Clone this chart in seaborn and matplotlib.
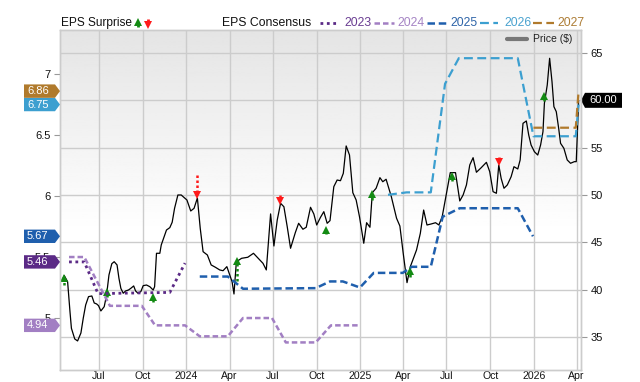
import numpy as np
import pandas as pd
import matplotlib
matplotlib.use('Agg')
import matplotlib.pyplot as plt
import matplotlib.transforms as mtransforms
from matplotlib.patches import Polygon
from matplotlib.lines import Line2D
import seaborn as sns

# --- price history ($), right axis
price_dates = [
    '2023-04-15', '2023-04-19', '2023-04-26', '2023-05-01', '2023-05-04', '2023-05-11', '2023-05-17',
    '2023-05-24', '2023-05-29', '2023-06-03', '2023-06-09', '2023-06-16', '2023-06-21', '2023-06-26',
    '2023-06-30', '2023-07-05', '2023-07-12', '2023-07-17', '2023-07-22', '2023-07-28', '2023-08-02',
    '2023-08-08', '2023-08-12', '2023-08-16', '2023-08-21', '2023-08-26', '2023-09-01', '2023-09-06',
    '2023-09-12', '2023-09-16', '2023-09-21', '2023-09-27', '2023-10-02', '2023-10-09', '2023-10-16',
    '2023-10-23', '2023-10-26', '2023-10-30', '2023-11-06', '2023-11-09', '2023-11-15', '2023-11-20',
    '2023-11-27', '2023-12-02', '2023-12-07', '2023-12-14', '2023-12-21', '2024-01-02', '2024-01-10',
    '2024-01-17', '2024-01-24', '2024-01-30', '2024-02-05', '2024-02-14', '2024-02-22', '2024-03-02',
    '2024-03-11', '2024-03-18', '2024-03-26', '2024-04-01', '2024-04-06', '2024-04-10', '2024-04-15',
    '2024-04-26', '2024-05-09', '2024-05-21', '2024-05-31', '2024-06-10', '2024-06-17', '2024-06-26',
    '2024-07-03', '2024-07-10', '2024-07-17', '2024-07-24', '2024-07-31', '2024-08-07', '2024-08-17',
    '2024-08-24', '2024-09-02', '2024-09-09', '2024-09-18', '2024-09-25', '2024-10-01', '2024-10-09',
    '2024-10-16', '2024-10-23', '2024-10-29', '2024-11-06', '2024-11-13', '2024-11-20', '2024-11-26',
    '2024-12-02', '2024-12-09', '2024-12-16', '2024-12-23', '2024-12-30', '2025-01-08', '2025-01-14',
    '2025-01-21', '2025-01-26', '2025-02-03', '2025-02-11', '2025-02-17', '2025-02-24', '2025-03-07',
    '2025-03-18', '2025-03-25', '2025-04-01', '2025-04-09', '2025-04-16', '2025-04-29', '2025-05-07',
    '2025-05-14', '2025-05-21', '2025-05-30', '2025-06-08', '2025-06-15', '2025-06-22', '2025-07-01',
    '2025-07-09', '2025-07-20', '2025-07-29', '2025-08-05', '2025-08-12', '2025-08-19', '2025-08-26',
    '2025-09-02', '2025-09-12', '2025-09-23', '2025-09-30', '2025-10-07', '2025-10-14', '2025-10-19',
    '2025-10-24', '2025-10-30', '2025-11-06', '2025-11-14', '2025-11-20', '2025-11-28', '2025-12-03',
    '2025-12-09', '2025-12-16', '2025-12-21', '2025-12-26', '2026-01-02', '2026-01-09', '2026-01-15',
    '2026-01-20', '2026-01-23', '2026-01-29', '2026-02-03', '2026-02-08', '2026-02-12', '2026-02-17',
    '2026-02-22', '2026-02-26', '2026-03-05', '2026-03-12', '2026-03-19', '2026-03-27', '2026-03-31',
    '2026-04-05']
price_vals = [
    41.02, 41.48, 40.84, 37.67, 35.92, 34.79, 34.58,
    35.42, 37.01, 38.38, 39.26, 39.33, 38.59, 38.49,
    38.31, 37.75, 38.20, 39.44, 41.55, 42.74, 42.95,
    42.61, 41.20, 40.14, 39.62, 39.86, 39.96, 40.14,
    40.39, 39.86, 39.62, 39.79, 40.42, 40.49, 40.31,
    39.96, 40.31, 43.84, 43.84, 44.72, 45.59, 46.30,
    46.55, 47.12, 48.59, 50.00, 50.00, 49.47, 48.31,
    48.59, 49.68, 46.48, 44.01, 43.66, 42.61, 42.36,
    42.08, 42.00, 42.43, 41.55, 40.84, 39.54, 42.95,
    43.31, 43.42, 43.84, 43.31, 42.78, 42.08, 48.00,
    44.61, 47.36, 49.12, 48.76, 46.65, 44.37, 46.02,
    47.01, 46.38, 46.59, 48.70, 47.99, 46.83, 47.64,
    48.24, 47.01, 47.29, 50.88, 51.58, 51.51, 52.29,
    55.18, 54.22, 50.24, 49.47, 47.71, 44.90, 47.07,
    46.59, 50.24, 50.71, 51.83, 51.40, 51.66, 49.82,
    47.54, 46.72, 43.84, 40.74, 42.43, 44.19, 45.95,
    48.41, 46.83, 46.94, 47.07, 46.83, 47.71, 50.18,
    52.36, 52.36, 49.37, 50.00, 51.06, 53.17, 53.94,
    52.40, 52.88, 53.45, 52.46, 50.35, 50.18, 53.17,
    51.76, 50.71, 51.06, 51.93, 52.99, 52.75, 53.70,
    57.57, 57.82, 56.34, 55.28, 54.57, 54.22, 55.28,
    56.69, 59.69, 61.62, 64.44, 61.97, 59.33, 58.80,
    57.05, 55.46, 54.93, 53.70, 53.35, 53.52, 53.52,
    60.00]

# --- EPS consensus by fiscal year, left axis
eps_2023_dates = ['2023-04-29', '2023-05-31', '2023-06-29', '2023-11-27', '2023-12-29']
eps_2023 = [5.46, 5.46, 5.20, 5.21, 5.45]

eps_2024_dates = ['2023-04-29', '2023-05-31', '2023-07-24', '2023-09-29', '2023-10-27', '2023-12-29',
                  '2024-01-29', '2024-03-28', '2024-04-29', '2024-06-29', '2024-07-28', '2024-09-29',
                  '2024-10-31', '2024-12-29']
eps_2024 = [5.50, 5.50, 5.10, 5.10, 4.94, 4.94, 4.85, 4.85, 5.00, 5.00, 4.80, 4.80, 4.94, 4.94]

eps_2025_dates = ['2024-01-29', '2024-03-28', '2024-04-29', '2024-09-29', '2024-10-29', '2024-11-25',
                  '2024-12-31', '2025-01-29', '2025-03-31', '2025-04-19', '2025-05-29', '2025-06-23',
                  '2025-07-08', '2025-07-29', '2025-11-28', '2025-12-30']
eps_2025 = [5.34, 5.34, 5.24, 5.245, 5.30, 5.30, 5.25, 5.37, 5.37, 5.42, 5.42, 5.83, 5.86, 5.90, 5.90, 5.67]

eps_2026_dates = ['2025-02-28', '2025-04-08', '2025-05-29', '2025-06-28', '2025-07-27', '2025-11-28',
                  '2025-12-31', '2026-03-30', '2026-04-05']
eps_2026 = [6.01, 6.03, 6.03, 6.92, 7.13, 7.13, 6.49, 6.49, 6.75]

eps_2027_dates = ['2025-12-31', '2026-03-30', '2026-04-05']
eps_2027 = [6.56, 6.56, 6.86]

years = ['2023', '2024', '2025', '2026', '2027']
year_colors = ['#5b2a86', '#a27fc3', '#1f5fad', '#3c9fd0', '#b07a2c']
year_text_colors = ['#6a3d92', '#a584c4', '#2e64a8', '#4aa2cf', '#ad7d36']
last_eps = ['5.46', '4.94', '5.67', '6.75', '6.86']

# --- earnings surprises (arrow drawn on the price line)
surprise_dates = ['2023-04-18', '2023-07-18', '2023-10-22', '2024-01-24', '2024-04-16', '2024-07-16',
                  '2024-10-20', '2025-01-26', '2025-04-15', '2025-07-13', '2025-10-19', '2026-01-23']
surprise_dir = ['up', 'up', 'up', 'down', 'up', 'down', 'up', 'up', 'up', 'up', 'down', 'up']
surprise_from = [40.49, 39.22, 38.66, 52.11, 40.92, 49.95, 45.88, 49.47, 41.34, 51.48, 54.01, 59.93]
surprise_to = [41.44, 40.04, 39.51, 49.79, 43.24, 49.15, 46.51, 50.32, 42.18, 52.22, 53.27, 60.67]

tick_dates = ['2023-07-01', '2023-10-01', '2024-01-01', '2024-04-01', '2024-07-01', '2024-10-01',
              '2025-01-01', '2025-04-01', '2025-07-01', '2025-10-01', '2026-01-01', '2026-04-01']
tick_labels = ['Jul', 'Oct', '2024', 'Apr', 'Jul', 'Oct', '2025', 'Apr', 'Jul', 'Oct', '2026', 'Apr']

sns.set_theme(style='white')
plt.rcParams['font.family'] = ['Liberation Sans', 'DejaVu Sans']

W, H = 640, 382
fig = plt.figure(figsize=(6.4, 3.82), dpi=100)
ax = fig.add_axes([60 / W, 12 / H, 521 / W, 340 / H])
ax2 = ax.twinx()
ax2.patch.set_visible(False)

# background gradient
grad = np.clip(np.linspace(0, 1, 200) / 0.6, 0, 1)
grad = 0.895 + 0.105 * grad
ax.imshow(grad[:, None], cmap='gray', vmin=0, vmax=1, extent=[0, 1, 0, 1],
          transform=ax.transAxes, aspect='auto', zorder=0)

price_df = pd.DataFrame({'date': pd.to_datetime(price_dates), 'price': price_vals})
sns.lineplot(data=price_df, x='date', y='price', ax=ax, color='black', lw=0.9, zorder=3)

# surprise arrows
green, red = '#138a13', '#ff1a1a'
for d, s, a, b in zip(pd.to_datetime(surprise_dates), surprise_dir, surprise_from, surprise_to):
    c = green if s == 'up' else red
    sgn = 1 if s == 'up' else -1
    head = 0.45
    ax.plot([d, d], [a, b - sgn * head], color=c, lw=1.8, ls=(0, (1, 1)), zorder=4,
            solid_capstyle='butt')
    ax.plot([d], [b - sgn * head * 0.55], marker='^' if s == 'up' else 'v', color=c, ms=6,
            mew=0, zorder=5)

# EPS consensus lines
eps_sets = [(eps_2023_dates, eps_2023, (0, (1, 1.3)), 2.0),
            (eps_2024_dates, eps_2024, (0, (2.2, 1.2)), 1.8),
            (eps_2025_dates, eps_2025, (0, (3, 1.5)), 1.8),
            (eps_2026_dates, eps_2026, (0, (4, 2)), 1.6),
            (eps_2027_dates, eps_2027, (0, (4, 2)), 1.6)]
for (dts, vals, ls, lw), col in zip(eps_sets, year_colors):
    sns.lineplot(x=pd.to_datetime(dts), y=vals, ax=ax2, color=col, linestyle=ls, lw=lw)

# axes limits & ticks
ax.set_xlim(pd.Timestamp('2023-04-10'), pd.Timestamp('2026-04-10'))
ax.set_ylim(31.51, 67.43)
ax2.set_ylim(4.574, 7.361)
ax.set_yticks([35, 40, 45, 50, 55, 60, 65])
ax2.set_yticks([5, 5.5, 6, 6.5, 7])
ax2.set_yticklabels(['5', '5.5', '6', '6.5', '7'])
ax.set_xticks(pd.to_datetime(tick_dates))
ax.set_xticklabels(tick_labels)
ax.yaxis.tick_right()
ax2.yaxis.tick_left()
ax.set_xlabel('')
ax.set_ylabel('')
ax2.set_xlabel('')
ax2.set_ylabel('')
ax.grid(True, color='#cccccc', lw=1)
ax.set_axisbelow(True)
for a in (ax, ax2):
    for sp in a.spines.values():
        sp.set_color('#cccccc')
        sp.set_linewidth(1)
ax.tick_params(axis='y', right=True, length=4, width=0.8, color='#999999', labelsize=8, pad=3,
               labelcolor='#111111')
ax.tick_params(axis='x', bottom=False, length=0, labelsize=7.6, pad=1, labelcolor='#111111')
ax2.tick_params(axis='x', bottom=False, length=0)
ax2.tick_params(axis='y', left=True, right=False, length=4, width=0.8, color='#999999', labelsize=8,
                pad=3, labelcolor='#111111')

# left value tags (EPS)
tl = mtransforms.blended_transform_factory(ax2.transAxes, ax2.transData)
hh = 6.7 * (7.361 - 4.574) / 340
for val, col in zip(last_eps, year_colors):
    v = float(val)
    x0, x1, x2 = -36 / 521, -5 / 521, 0
    poly = Polygon([(x0, v - hh), (x1, v - hh), (x2, v), (x1, v + hh), (x0, v + hh)],
                   closed=True, transform=tl, facecolor=col, edgecolor='none', clip_on=False, zorder=10)
    ax2.add_patch(poly)
    ax2.text(-33 / 521, v, val, transform=tl, color='white', fontsize=8, va='center', ha='left',
             zorder=11, clip_on=False)

# right value tag (price)
tr = mtransforms.blended_transform_factory(ax.transAxes, ax.transData)
last_price = price_vals[-1]
ph = 7.5 * (67.43 - 31.51) / 340
px0, px1 = 1 + 4 / 521, 1 + 41 / 521
poly = Polygon([(1, last_price), (px0, last_price + ph), (px1, last_price + ph),
                (px1, last_price - ph), (px0, last_price - ph)], closed=True, transform=tr,
               facecolor='black', edgecolor='none', clip_on=False, zorder=10)
ax.add_patch(poly)
ax.text((1 + px1) / 2 + 2 / 521, last_price, f'{last_price:.2f}', transform=tr, color='white',
        fontsize=8, va='center', ha='center', zorder=11, clip_on=False)

# price legend inside plot
ax2.add_line(Line2D([447 / 521, 467 / 521], [0.9735, 0.9735], transform=ax2.transAxes,
                    color='#777777', lw=3, zorder=12))
ax2.text(473 / 521, 0.9735, 'Price ($)', transform=ax2.transAxes, fontsize=7.5, va='center',
         ha='left', color='#222222', zorder=12)

# header legend
fy = 1 - 22.7 / H
fig.text(61 / W, fy, 'EPS Surprise', fontsize=8.6, va='center', ha='left', color='#111111')
for xc, c, up in [(137.5, green, True), (148, red, False)]:
    if up:
        fig.add_artist(Line2D([xc / W, xc / W], [1 - 27 / H, 1 - 22 / H], color=c, lw=2,
                              solid_capstyle='butt'))
        fig.add_artist(Line2D([xc / W], [1 - 21.5 / H], marker='^', ms=6, mew=0, color=c))
    else:
        fig.add_artist(Line2D([xc / W, xc / W], [1 - 19 / H, 1 - 24 / H], color=c, lw=2,
                              solid_capstyle='butt'))
        fig.add_artist(Line2D([xc / W], [1 - 24.5 / H], marker='v', ms=6, mew=0, color=c))
fig.text(222 / W, fy, 'EPS Consensus', fontsize=8.8, va='center', ha='left', color='#111111')
samples = [(320, 339, 344), (374, 394, 397), (427, 447, 450), (480, 498, 504), (533, 554, 557)]
for (s0, s1, tx), yr, col, tcol, (_, _, ls, lw) in zip(samples, years, year_colors,
                                                      year_text_colors, eps_sets):
    fig.add_artist(Line2D([s0 / W, s1 / W], [fy, fy], color=col, lw=lw, ls=ls))
    fig.text(tx / W, fy, yr, fontsize=8.8, va='center', ha='left', color=tcol)

fig.savefig('out.png', dpi=100)
